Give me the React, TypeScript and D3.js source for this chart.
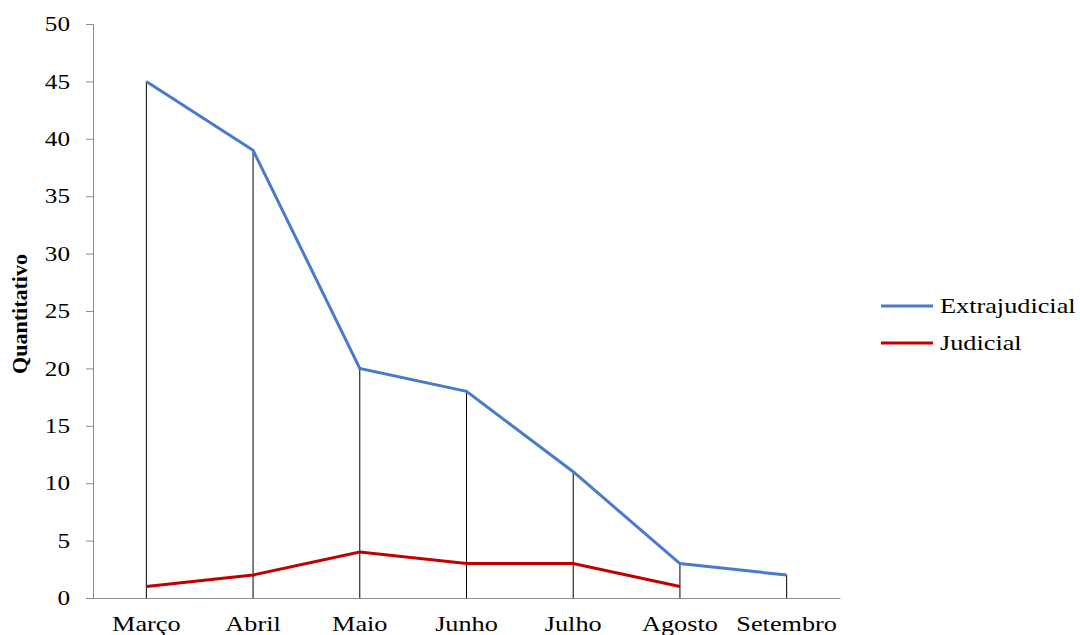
import { useEffect, useRef } from 'react';
import * as d3 from 'd3';

const months = ['Março', 'Abril', 'Maio', 'Junho', 'Julho', 'Agosto', 'Setembro'];
const extrajudicial = [45, 39, 20, 18, 11, 3, 2];
const judicial: (number | null)[] = [1, 2, 4, 3, 3, 1, null];
const yTicks = [0, 5, 10, 15, 20, 25, 30, 35, 40, 45, 50];

const seriesList = [
  { label: 'Extrajudicial', color: '#4a7acb', values: extrajudicial as (number | null)[] },
  { label: 'Judicial', color: '#c00000', values: judicial },
];

export default function App() {
  const svgRef = useRef<SVGSVGElement>(null);

  useEffect(() => {
    if (!svgRef.current) return;
    const svg = d3.select(svgRef.current);
    svg.selectAll('*').remove();

    const width = 1080;
    const height = 635;
    const margin = { top: 24, right: 240, bottom: 37, left: 93 };
    const chartWidth = width - margin.left - margin.right;
    const chartHeight = height - margin.top - margin.bottom;
    const font = '"Liberation Serif", "Times New Roman", serif';

    // the picture's text is stretched sideways, so widen it a bit
    const stretch = (sel: d3.Selection<any, any, any, any>, k: number) => {
      sel.each(function () {
        const node = this as SVGTextElement;
        const len = node.getComputedTextLength();
        d3.select(node).attr('textLength', len * k).attr('lengthAdjust', 'spacingAndGlyphs');
      });
    };

    const g = svg.append('g').attr('transform', `translate(${margin.left},${margin.top})`);

    const x = d3.scaleBand().domain(months).range([0, chartWidth]);
    const y = d3.scaleLinear().domain([0, 50]).range([chartHeight, 0]);
    const cx = (m: string) => (x(m) ?? 0) + x.bandwidth() / 2;

    // drop lines
    g.selectAll('.drop')
      .data(months)
      .enter()
      .append('line')
      .attr('x1', d => cx(d))
      .attr('x2', d => cx(d))
      .attr('y1', (d, i) => y(Math.max(extrajudicial[i], judicial[i] ?? 0)))
      .attr('y2', y(0))
      .attr('stroke', '#000')
      .attr('stroke-width', 1);

    // y axis
    const yAxis = d3.axisLeft(y).tickValues(yTicks).tickSize(7).tickPadding(16);
    const ya = g.append('g').call(yAxis);
    ya.select('.domain').attr('stroke', '#8c8c8c');
    ya.selectAll('.tick line').attr('stroke', '#8c8c8c');
    const yLabels = ya.selectAll('.tick text')
      .attr('fill', '#000')
      .style('font-family', font)
      .style('font-size', '21px');
    stretch(yLabels, 1.2);

    // x axis
    const xAxis = d3.axisBottom(x).tickSize(0).tickPadding(18);
    const xa = g.append('g').attr('transform', `translate(0,${chartHeight})`).call(xAxis);
    xa.select('.domain').attr('stroke', '#8c8c8c');
    const xLabels = xa.selectAll('.tick text')
      .attr('fill', '#000')
      .style('font-family', font)
      .style('font-size', '21px');
    stretch(xLabels, 1.25);

    // lines
    seriesList.forEach(s => {
      const line = d3
        .line<number | null>()
        .defined(d => d !== null)
        .x((d, i) => cx(months[i]))
        .y(d => y(d as number));
      g.append('path')
        .datum(s.values)
        .attr('d', line)
        .attr('fill', 'none')
        .attr('stroke', s.color)
        .attr('stroke-width', 3);
    });

    // y title
    svg.append('text')
      .attr('transform', `translate(27,314) rotate(-90)`)
      .attr('text-anchor', 'middle')
      .style('font-family', font)
      .style('font-size', '22px')
      .style('font-weight', 'bold')
      .text('Quantitativo');

    // legend
    const legend = svg.append('g').attr('transform', 'translate(881,306)');
    seriesList.forEach((s, i) => {
      const row = legend.append('g').attr('transform', `translate(0,${i * 37})`);
      row.append('line')
        .attr('x1', 0)
        .attr('x2', 52)
        .attr('stroke', s.color)
        .attr('stroke-width', 3);
      const t = row.append('text')
        .attr('x', 59)
        .attr('y', 7)
        .style('font-family', font)
        .style('font-size', '21px')
        .text(s.label);
      stretch(t, 1.25);
    });
  }, []);

  return (
    <svg
      ref={svgRef}
      width={1080}
      height={635}
      style={{ position: 'absolute', left: 0, top: 0, background: '#fff' }}
    />
  );
}
